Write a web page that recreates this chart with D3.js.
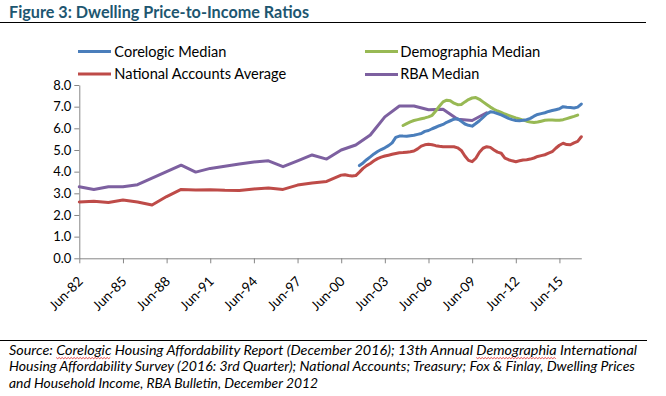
<!DOCTYPE html>
<html><head><meta charset="utf-8">
<script src="https://cdn.jsdelivr.net/npm/d3@7"></script>
<style>
html,body{margin:0;padding:0;background:#fff;}
svg{display:block;font-family:Lato,"Open Sans",sans-serif;}
</style></head>
<body>
<svg id="chart" width="666" height="396"></svg>
<script>
const titleText = "Figure 3: Dwelling Price-to-Income Ratios";
const sourceLines = [
  "Source: Corelogic Housing Affordability Report (December 2016); 13th Annual Demographia International",
  "Housing Affordability Survey (2016: 3rd Quarter); National Accounts; Treasury; Fox & Finlay, Dwelling Prices",
  "and Household Income, RBA Bulletin, December 2012"
];
const misspelled = ["Corelogic", "Demographia"];

const seriesNames = ["Corelogic Median", "Demographia Median", "National Accounts Average", "RBA Median"];
const seriesColors = ["#4A7EBB", "#98B954", "#BE4B48", "#7D60A0"];

const xTickLabels = ["Jun-82","Jun-85","Jun-88","Jun-91","Jun-94","Jun-97","Jun-00","Jun-03","Jun-06","Jun-09","Jun-12","Jun-15"];
const yTickValues = [0,1,2,3,4,5,6,7,8];

const annualDates = ["Jun-82","Jun-83","Jun-84","Jun-85","Jun-86","Jun-87","Jun-88","Jun-89","Jun-90","Jun-91",
  "Jun-92","Jun-93","Jun-94","Jun-95","Jun-96","Jun-97","Jun-98","Jun-99","Jun-00","Jun-01",
  "Jun-02","Jun-03","Jun-04","Jun-05","Jun-06","Jun-07","Jun-08","Jun-09","Jun-10"];

const quarterDates = ["Sep-00","Dec-00",
  "Mar-01","Jun-01","Sep-01","Dec-01","Mar-02","Jun-02","Sep-02","Dec-02",
  "Mar-03","Jun-03","Sep-03","Dec-03","Mar-04","Jun-04","Sep-04","Dec-04",
  "Mar-05","Jun-05","Sep-05","Dec-05","Mar-06","Jun-06","Sep-06","Dec-06",
  "Mar-07","Jun-07","Sep-07","Dec-07","Mar-08","Jun-08","Sep-08","Dec-08",
  "Mar-09","Jun-09","Sep-09","Dec-09","Mar-10","Jun-10","Sep-10","Dec-10",
  "Mar-11","Jun-11","Sep-11","Dec-11","Mar-12","Jun-12","Sep-12","Dec-12",
  "Mar-13","Jun-13","Sep-13","Dec-13","Mar-14","Jun-14","Sep-14","Dec-14",
  "Mar-15","Jun-15","Sep-15","Dec-15","Mar-16","Jun-16","Sep-16","Dec-16"];

// RBA Median, annual Jun-82 .. Jun-10
const rbaMedian = [3.30,3.18,3.30,3.30,3.40,3.70,4.00,4.30,3.98,4.15,
  4.25,4.35,4.45,4.50,4.23,4.50,4.77,4.58,5.00,5.23,
  5.69,6.53,7.03,7.03,6.86,6.88,6.42,6.36,6.72];

// National Accounts Average, annual Jun-82 .. Jun-00
const nationalAnnual = [2.60,2.63,2.58,2.69,2.60,2.46,2.85,3.18,3.15,3.17,
  3.14,3.13,3.20,3.25,3.18,3.38,3.48,3.55,3.84];
// National Accounts Average, quarterly Sep-00 .. Dec-16
const nationalQuarterly = [3.86,3.82,
  3.80,3.82,3.98,4.15, 4.28,4.38,4.50,4.60,
  4.67,4.72,4.76,4.80, 4.84,4.87,4.88,4.90,
  4.92,4.95,5.05,5.18, 5.24,5.26,5.24,5.20,
  5.17,5.15,5.15,5.15, 5.15,5.10,4.98,4.72,
  4.52,4.46,4.62,4.90, 5.08,5.15,5.12,5.00,
  4.90,4.85,4.62,4.55, 4.50,4.46,4.50,4.54,
  4.55,4.58,4.63,4.70, 4.74,4.78,4.85,4.92,
  5.08,5.22,5.31,5.25, 5.24,5.33,5.40,5.61];

// Corelogic Median, quarterly (Sep-01 .. Dec-16)
const corelogicQuarterly = [null,null,
  null,null,4.28,4.40, 4.55,4.68,4.82,4.93,
  5.02,5.10,5.20,5.33, 5.58,5.64,5.64,5.63,
  5.66,5.68,5.72,5.76, 5.86,5.90,5.98,6.05,
  6.12,6.18,6.28,6.35, 6.42,6.44,6.32,6.20,
  6.14,6.10,6.22,6.35, 6.50,6.66,6.76,6.74,
  6.68,6.62,6.54,6.46, 6.40,6.36,6.35,6.37,
  6.40,6.46,6.56,6.64, 6.68,6.72,6.78,6.82,
  6.86,6.90,7.00,6.97, 6.96,6.94,6.98,7.12];

// Demographia Median, quarterly (Sep-04 .. Sep-16)
const demographiaQuarterly = [null,null,
  null,null,null,null, null,null,null,null,
  null,null,null,null, null,null,6.13,6.22,
  6.30,6.36,6.40,6.44, 6.48,6.53,6.60,6.80,
  7.02,7.22,7.30,7.27, 7.16,7.09,7.10,7.22,
  7.33,7.40,7.42,7.34, 7.22,7.10,6.98,6.88,
  6.80,6.73,6.66,6.60, 6.54,6.48,6.43,6.38,
  6.33,6.29,6.27,6.29, 6.33,6.37,6.38,6.38,
  6.37,6.37,6.40,6.45, 6.50,6.55,6.61,null];

const parse = d3.timeParse("%b-%y");
const svg = d3.select("#chart");

const x = d3.scaleTime().domain([parse("Jun-82"), parse("Dec-16")]).range([79.3, 581.3]);
const y = d3.scaleLinear().domain([0, 8]).range([258.3, 85]);

const zip = (dates, vals) => dates.map((d, i) => ({date: parse(d), v: vals[i]}));
const seriesData = [
  zip(quarterDates, corelogicQuarterly),
  zip(quarterDates, demographiaQuarterly),
  zip(annualDates.slice(0, nationalAnnual.length), nationalAnnual).concat(zip(quarterDates, nationalQuarterly)),
  zip(annualDates, rbaMedian)
];

// Title
svg.append("text").attr("x", 9).attr("y", 18)
  .attr("font-size", 17).attr("font-weight", "bold").attr("fill", "#1D5670")
  .attr("textLength", 300).attr("lengthAdjust", "spacingAndGlyphs")
  .text(titleText);
svg.append("line").attr("x1", 0).attr("x2", 646).attr("y1", 22.5).attr("y2", 22.5)
  .attr("stroke", "#000").attr("stroke-width", 1);

// Axes
const axisColor = "#868686";
const yAxis = svg.append("g").attr("transform", "translate(79.3,0)")
  .call(d3.axisLeft(y).tickValues(yTickValues).tickFormat(d3.format(".1f")).tickSize(5).tickSizeOuter(0));
yAxis.select(".domain").attr("stroke", axisColor);
yAxis.selectAll(".tick line").attr("stroke", axisColor);
yAxis.selectAll(".tick text").attr("font-family", "Lato, sans-serif").attr("font-size", 13)
  .attr("fill", "#000").attr("x", -8);

const xAxis = svg.append("g").attr("transform", "translate(0,258.3)")
  .call(d3.axisBottom(x).tickValues(xTickLabels.map(parse)).tickFormat(d3.timeFormat("%b-%y")).tickSize(5).tickSizeOuter(0));
xAxis.select(".domain").attr("stroke", axisColor);
xAxis.selectAll(".tick line").attr("stroke", axisColor);
xAxis.selectAll(".tick text").attr("font-family", "Lato, sans-serif").attr("font-size", 13.5)
  .attr("fill", "#000").attr("dy", null).attr("y", 0)
  .attr("text-anchor", "end")
  .attr("transform", "translate(4,24) rotate(-45)");

// Lines
const line = d3.line().defined(d => d.v != null).x(d => x(d.date)).y(d => y(d.v));
const drawOrder = [3, 2, 1, 0];
drawOrder.forEach(i => {
  svg.append("path").datum(seriesData[i])
    .attr("fill", "none").attr("stroke", seriesColors[i]).attr("stroke-width", 3)
    .attr("stroke-linejoin", "round").attr("stroke-linecap", "round")
    .attr("d", line);
});

// Legend
const legendPos = [
  {lx: 78, ly: 51.5, tx: 114.3, ty: 57.3, w: 112},
  {lx: 365, ly: 51.5, tx: 400.3, ty: 57.3, w: 140},
  {lx: 78, ly: 74, tx: 114.3, ty: 78.8, w: 172},
  {lx: 365, ly: 74.5, tx: 400.3, ty: 78.8, w: 79}
];
seriesNames.forEach((name, i) => {
  const p = legendPos[i];
  svg.append("line").attr("x1", p.lx).attr("x2", p.lx + 33).attr("y1", p.ly).attr("y2", p.ly)
    .attr("stroke", seriesColors[i]).attr("stroke-width", 3);
  svg.append("text").attr("x", p.tx).attr("y", p.ty).attr("font-size", 14.5).attr("fill", "#000")
    .attr("textLength", p.w).attr("lengthAdjust", "spacingAndGlyphs").text(name);
});

// Source
svg.append("line").attr("x1", 0).attr("x2", 647).attr("y1", 340.5).attr("y2", 340.5)
  .attr("stroke", "#000").attr("stroke-width", 1);
const srcWidths = [628, 626, 309];
const srcBase = [354.5, 371, 387.5];
sourceLines.forEach((t, i) => {
  const el = svg.append("text").attr("x", 9).attr("y", srcBase[i]).attr("font-size", 13.6)
    .attr("font-style", "italic").attr("fill", "#000")
    .attr("textLength", srcWidths[i]).attr("lengthAdjust", "spacingAndGlyphs").text(t);
  misspelled.forEach(w => {
    const idx = t.indexOf(w);
    if (idx < 0) return;
    const node = el.node();
    const x0 = node.getStartPositionOfChar(idx).x;
    const x1 = node.getEndPositionOfChar(idx + w.length - 1).x;
    const yy = srcBase[i] + 3;
    let d = "M" + x0 + "," + yy;
    let k = 0;
    for (let xx = x0 + 1.5; xx <= x1; xx += 1.5) { d += "L" + xx + "," + (yy + (k % 2 === 0 ? 1.2 : 0)); k++; }
    svg.append("path").attr("d", d).attr("fill", "none").attr("stroke", "#E02020").attr("stroke-width", 0.8);
  });
});
</script>
</body></html>
